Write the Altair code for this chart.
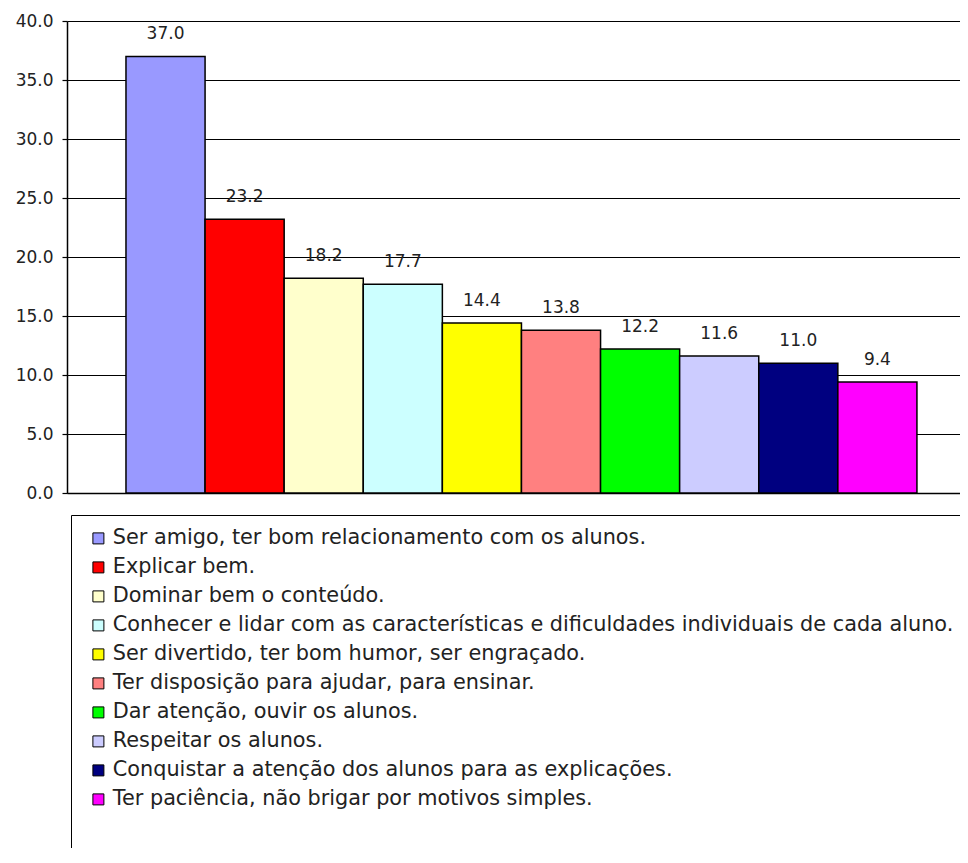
import altair as alt
import pandas as pd

categories = [
    "Ser amigo, ter bom relacionamento com os alunos.",
    "Explicar bem.",
    "Dominar bem o conteúdo.",
    "Conhecer e lidar com as características e dificuldades individuais de cada aluno.",
    "Ser divertido, ter bom humor, ser engraçado.",
    "Ter disposição para ajudar, para ensinar.",
    "Dar atenção, ouvir os alunos.",
    "Respeitar os alunos.",
    "Conquistar a atenção dos alunos para as explicações.",
    "Ter paciência, não brigar por motivos simples.",
]
values = [37.0, 23.2, 18.2, 17.7, 14.4, 13.8, 12.2, 11.6, 11.0, 9.4]
colors = ["#9999FF", "#FF0000", "#FFFFCC", "#CCFFFF", "#FFFF00",
          "#FF8080", "#00FF00", "#CCCCFF", "#000080", "#FF00FF"]
y_ticks = [0, 5, 10, 15, 20, 25, 30, 35, 40]

df = pd.DataFrame({"cat": categories, "val": values})

FONT = "DejaVu Sans"

x_enc = alt.X("cat:N", sort=categories, title=None,
              scale=alt.Scale(paddingInner=0, paddingOuter=0.645, align=0.578),
              axis=alt.Axis(labels=False, ticks=False, domain=True,
                            domainColor="black", domainWidth=1.5, grid=False))
y_scale = alt.Scale(domain=[0, 40], nice=False)

bars = alt.Chart(df).mark_bar(stroke="black", strokeWidth=1.5).encode(
    x=x_enc,
    y=alt.Y("val:Q", scale=y_scale, title=None,
            axis=alt.Axis(values=y_ticks, format=".1f", grid=True,
                          gridColor="black", gridOpacity=1, gridWidth=1.2,
                          domainColor="black", domainWidth=1.5,
                          tickColor="black", tickSize=5, tickWidth=1.2,
                          labelFont=FONT, labelFontSize=17, labelColor="#222222",
                          labelPadding=9)),
    color=alt.Color("cat:N", sort=categories, title=" ",
                    scale=alt.Scale(domain=categories, range=colors),
                    legend=alt.Legend(
                        orient="none", legendX=4, legendY=494,
                        direction="vertical",
                        titleOrient="bottom", titleFontSize=10, titlePadding=40,
                        symbolType="square", symbolSize=121, symbolOffset=4,
                        symbolStrokeColor="black", symbolStrokeWidth=1,
                        symbolOpacity=1,
                        labelFont=FONT, labelFontSize=20.8, labelColor="#222222",
                        labelLimit=2000, labelOffset=4, rowPadding=7.0,
                        padding=13, strokeColor="black", fillColor="white",
                    )),
)

labels = alt.Chart(df).mark_text(
    font=FONT, fontSize=17, color="#222222", dy=-22, baseline="middle"
).encode(
    x=alt.X("cat:N", sort=categories),
    y=alt.Y("val:Q", scale=y_scale),
    text=alt.Text("val:Q", format=".1f"),
)

chart = alt.layer(bars, labels).properties(
    width=893, height=472,
    autosize=alt.AutoSizeParams(type="none"),
    padding={"left": 59, "top": 13, "right": 0, "bottom": 355},
).configure_view(stroke=None)

chart.save("out.html", embed_options={"renderer": "svg", "actions": False})
